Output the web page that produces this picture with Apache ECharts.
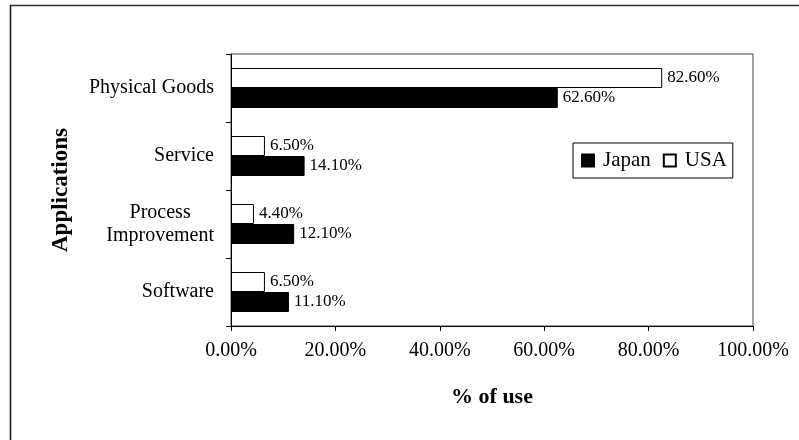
<!DOCTYPE html>
<html>
<head>
<meta charset="utf-8">
<script src="https://cdn.jsdelivr.net/npm/echarts@6/dist/echarts.min.js"></script>
<style>
  html, body { margin: 0; padding: 0; background: #fff; }
  #chart { width: 799px; height: 440px; }
</style>
</head>
<body>
<div id="chart"></div>
<script>
// Application areas, listed from the bottom of the axis upwards
const categories = ['Software', 'Process\nImprovement', 'Service', 'Physical Goods'];
const japanValues = [11.1, 12.1, 14.1, 62.6];
const usaValues = [6.5, 4.4, 6.5, 82.6];
const xTicks = [0, 20, 40, 60, 80, 100];

const serif = 'Liberation Serif, Times New Roman, serif';
const pct = v => v.toFixed(2) + '%';

const barLabel = {
  show: true,
  position: 'right',
  distance: 5,
  color: '#000',
  fontFamily: serif,
  fontSize: 17,
  formatter: p => pct(p.value)
};

const chart = echarts.init(document.getElementById('chart'));
chart.setOption({
  animation: false,
  backgroundColor: '#fff',
  textStyle: { fontFamily: serif, color: '#000' },
  graphic: [
    { type: 'line', shape: { x1: 10, y1: 5.5, x2: 799, y2: 5.5 }, style: { stroke: '#333', lineWidth: 1.5 } },
    { type: 'line', shape: { x1: 10.5, y1: 5, x2: 10.5, y2: 440 }, style: { stroke: '#111', lineWidth: 1.5 } }
  ],
  grid: {
    left: 231, right: 46, top: 54, bottom: 114,
    show: true, borderColor: '#444', borderWidth: 1, backgroundColor: '#fff'
  },
  legend: {
    data: ['Japan', 'USA'],
    left: 573, top: 143,
    orient: 'horizontal',
    icon: 'rect',
    itemWidth: 12, itemHeight: 12, itemGap: 12,
    padding: [7, 6, 7, 8],
    borderColor: '#000', borderWidth: 1,
    backgroundColor: '#fff',
    textStyle: { fontFamily: serif, fontSize: 21, color: '#000', padding: [0, 0, 0, 4] }
  },
  xAxis: {
    type: 'value',
    min: xTicks[0], max: xTicks[xTicks.length - 1], interval: 20,
    name: '% of use',
    nameLocation: 'middle',
    nameGap: 60,
    nameTextStyle: { fontFamily: serif, fontSize: 22, fontWeight: 'bold', color: '#000' },
    axisLine: { show: true, lineStyle: { color: '#000', width: 1 } },
    axisTick: { show: true, length: 5, lineStyle: { color: '#000' } },
    axisLabel: { formatter: v => pct(v), fontFamily: serif, fontSize: 20, color: '#000', margin: 15 },
    splitLine: { show: false }
  },
  yAxis: {
    type: 'category',
    data: categories,
    name: 'Applications',
    nameLocation: 'middle',
    nameGap: 158,
    nameRotate: 90,
    nameTextStyle: { fontFamily: serif, fontSize: 23, fontWeight: 'bold', color: '#000' },
    axisLine: { show: true, lineStyle: { color: '#000', width: 1 } },
    axisTick: { show: true, length: 5, lineStyle: { color: '#000' } },
    axisLabel: {
      fontFamily: serif, fontSize: 20, color: '#000', margin: 17, lineHeight: 23,
      formatter: v => v.split('\n').map(s => '{c|' + s + '}').join('\n'),
      rich: { c: { align: 'center', fontFamily: serif, fontSize: 20, color: '#000', lineHeight: 23 } }
    }
  },
  series: [
    {
      name: 'USA', type: 'bar', data: usaValues,
      barWidth: 20, barGap: '0%',
      itemStyle: { color: '#fff', borderColor: '#000', borderWidth: 1 },
      label: barLabel
    },
    {
      name: 'Japan', type: 'bar', data: japanValues,
      barWidth: 20, barGap: '0%',
      itemStyle: { color: '#000', borderColor: '#000', borderWidth: 1 },
      label: barLabel
    }
  ]
});
</script>
</body>
</html>
